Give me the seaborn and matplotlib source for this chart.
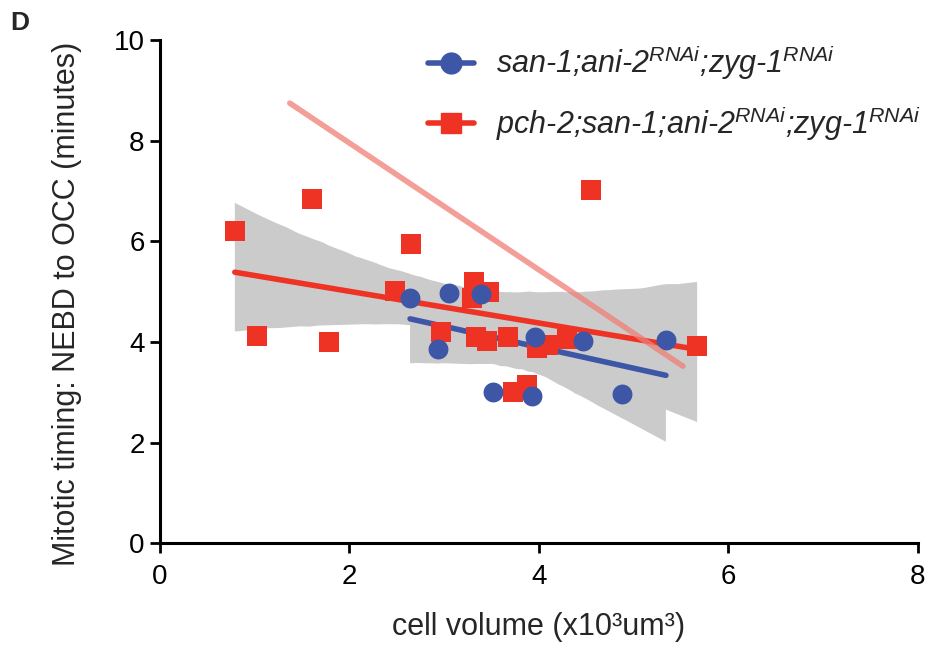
import numpy as np
import pandas as pd
import matplotlib
matplotlib.use("Agg")
import matplotlib.pyplot as plt
from matplotlib.lines import Line2D
from matplotlib.collections import PolyCollection
import seaborn as sns

# ---- data ----
blue_x = [2.64, 3.05, 3.39, 2.93, 3.96, 4.47, 5.34, 3.51, 3.93, 4.88]
blue_y = [4.88, 4.98, 4.95, 3.86, 4.10, 4.02, 4.05, 3.01, 2.93, 2.96]

red_x = [0.79, 1.61, 1.02, 1.78, 2.65, 2.48, 3.31, 3.47, 3.29, 2.97,
         3.34, 3.45, 3.67, 3.98, 4.10, 4.30, 4.55, 5.67, 3.87, 3.73]
red_y = [6.20, 6.84, 4.12, 4.00, 5.94, 5.02, 5.20, 5.00, 4.88, 4.20,
         4.10, 4.02, 4.10, 3.88, 3.94, 4.06, 7.02, 3.92, 3.14, 3.01]

pink_x = [1.37, 5.52]
pink_y = [8.75, 3.52]

label_blue = "san-1;ani-2$^{RNAi}$;zyg-1$^{RNAi}$"
label_red = "pch-2;san-1;ani-2$^{RNAi}$;zyg-1$^{RNAi}$"
xlabel = "cell volume (x10\u00b3um\u00b3)"
ylabel = "Mitotic timing: NEBD to OCC (minutes)"
xticks = [0, 2, 4, 6, 8]
yticks = [0, 2, 4, 6, 8, 10]

BLUE = "#3d56a6"
RED = "#ee3324"
PINK = "#ef7f76"
BAND = "#cbcbcb"

sns.set_theme(style="ticks")
plt.rcParams["font.family"] = ["Liberation Sans", "DejaVu Sans"]
plt.rcParams["mathtext.fontset"] = "custom"
plt.rcParams["mathtext.it"] = "Liberation Sans:italic"
plt.rcParams["mathtext.rm"] = "Liberation Sans"

fig = plt.figure(figsize=(9.3, 6.49), dpi=100)
ax = fig.add_axes([0.172, 0.163, 0.815, 0.775])

dfb = pd.DataFrame({"x": blue_x, "y": blue_y})
dfr = pd.DataFrame({"x": red_x, "y": red_y})

sns.regplot(data=dfb, x="x", y="y", ax=ax, scatter=False, ci=95, seed=3,
            color=BLUE, line_kws=dict(lw=4, zorder=3, solid_capstyle="round"))
sns.regplot(data=dfr, x="x", y="y", ax=ax, scatter=False, ci=95, seed=3,
            color=RED, line_kws=dict(lw=4, zorder=5, solid_capstyle="round"))
for coll in ax.collections:
    if isinstance(coll, PolyCollection):
        coll.set_facecolor(BAND)
        coll.set_alpha(1)
        coll.set_edgecolor("none")
        coll.set_zorder(1)

ax.scatter(red_x, red_y, marker="s", s=205, color=RED, linewidths=0, zorder=4)
ax.scatter(blue_x, blue_y, marker="o", s=205, color=BLUE, linewidths=0, zorder=6)
sns.lineplot(x=pink_x, y=pink_y, ax=ax, color=PINK, lw=4, alpha=0.75, zorder=7)

ax.set_xlim(0, 8)
ax.set_ylim(0, 10)
ax.set_xticks(xticks)
ax.set_yticks(yticks)
ax.tick_params(axis="both", length=7, width=2, labelsize=20, colors="black")
ax.tick_params(axis="x", pad=8)
ax.tick_params(axis="y", pad=4)
for s in ["left", "bottom"]:
    ax.spines[s].set_linewidth(2.2)
    ax.spines[s].set_color("black")
sns.despine(ax=ax)
ax.set_xlabel(xlabel, fontsize=22, labelpad=16)
ax.set_ylabel(ylabel, fontsize=22)
ax.yaxis.set_label_coords(-0.103, 0.475)

handles = [
    Line2D([], [], color=BLUE, marker="o", markersize=15, lw=4),
    Line2D([], [], color=RED, marker="s", markersize=15, lw=4),
]
leg = ax.legend(handles, [label_blue, label_red], loc="upper left",
                bbox_to_anchor=(0.33, 1.03), frameon=False, handlelength=1.5,
                handletextpad=0.7, labelspacing=0.7, borderaxespad=0.2,
                prop={"family": "Liberation Sans", "style": "italic", "size": 22})

fig.text(0.011, 0.965, "D", fontsize=19, fontweight="bold", va="center")

fig.savefig("out.png", dpi=100)
